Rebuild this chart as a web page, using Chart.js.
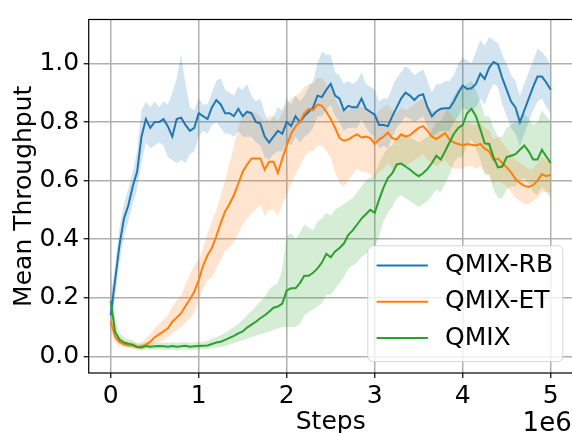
<!DOCTYPE html>
<html><head><meta charset="utf-8">
<script src="https://cdn.jsdelivr.net/npm/chart.js@4"></script>
<style>
html,body{margin:0;padding:0;overflow:hidden;background:#fff;}
#wrap{width:574px;height:433px;position:relative;}
</style></head><body>
<div id="wrap"><canvas id="c"></canvas></div>
<script>
// x values in units of 1e6 steps
const steps = [0,0.05,0.1,0.15,0.2,0.25,0.3,0.35,0.4,0.45,
0.5,0.55,0.6,0.65,0.7,0.75,0.8,0.85,0.9,0.95,
1,1.05,1.1,1.15,1.2,1.25,1.3,1.35,1.4,1.45,
1.5,1.55,1.6,1.65,1.7,1.75,1.8,1.85,1.9,1.95,
2,2.05,2.1,2.15,2.2,2.25,2.3,2.35,2.4,2.45,
2.5,2.55,2.6,2.65,2.7,2.75,2.8,2.85,2.9,2.95,
3,3.05,3.1,3.15,3.2,3.25,3.3,3.35,3.4,3.45,
3.5,3.55,3.6,3.65,3.7,3.75,3.8,3.85,3.9,3.95,
4,4.05,4.1,4.15,4.2,4.25,4.3,4.35,4.4,4.45,
4.5,4.55,4.6,4.65,4.7,4.75,4.8,4.85,4.9,4.95,5];

const rbMean = [0.14,0.26,0.38,0.47,0.515,0.58,0.63,0.75,0.81,0.78,
0.80,0.80,0.81,0.785,0.75,0.81,0.815,0.79,0.77,0.78,
0.83,0.82,0.81,0.85,0.875,0.86,0.83,0.83,0.82,0.845,
0.82,0.835,0.83,0.80,0.795,0.75,0.73,0.75,0.77,0.76,
0.80,0.786,0.82,0.80,0.82,0.835,0.85,0.89,0.885,0.91,
0.93,0.89,0.88,0.84,0.855,0.85,0.85,0.88,0.845,0.835,
0.825,0.79,0.79,0.786,0.82,0.85,0.88,0.90,0.89,0.875,
0.89,0.895,0.85,0.82,0.836,0.845,0.847,0.847,0.87,0.90,
0.925,0.913,0.915,0.93,0.965,0.947,0.985,1.005,0.997,0.95,
0.91,0.87,0.85,0.80,0.84,0.88,0.92,0.955,0.955,0.935,0.91];
const rbHigh = [0.20,0.31,0.44,0.52,0.57,0.63,0.70,0.84,0.87,0.85,
0.87,0.85,0.87,0.86,0.90,0.95,1.03,0.93,0.85,0.84,
0.88,0.86,0.86,0.90,0.94,0.95,0.91,0.90,0.89,0.92,
0.91,0.93,0.89,0.87,0.88,0.83,0.80,0.82,0.85,0.84,
0.88,0.86,0.89,0.87,0.89,0.92,0.94,1.00,1.04,1.03,
1.03,0.97,0.96,0.93,0.94,0.93,0.94,0.97,0.93,0.92,
0.91,0.87,0.88,0.88,0.92,0.95,0.97,0.99,0.98,0.96,
0.97,0.98,0.94,0.90,0.93,0.93,0.94,0.94,0.96,1.00,
1.02,1.01,1.00,1.04,1.08,1.06,1.09,1.08,1.07,1.03,
1.00,0.96,0.94,0.89,0.93,0.97,1.01,1.05,1.04,1.02,0.99];
const rbLow = [0.11,0.20,0.32,0.41,0.46,0.52,0.57,0.66,0.73,0.71,
0.72,0.73,0.72,0.68,0.67,0.66,0.67,0.66,0.69,0.70,
0.75,0.77,0.76,0.79,0.80,0.78,0.76,0.76,0.75,0.77,
0.75,0.75,0.75,0.73,0.72,0.68,0.67,0.69,0.70,0.70,
0.73,0.72,0.75,0.73,0.75,0.76,0.78,0.82,0.82,0.84,
0.86,0.82,0.80,0.77,0.78,0.78,0.78,0.81,0.78,0.76,
0.75,0.71,0.72,0.71,0.75,0.78,0.80,0.82,0.81,0.80,
0.81,0.82,0.78,0.75,0.76,0.77,0.77,0.77,0.80,0.82,
0.85,0.84,0.84,0.85,0.88,0.86,0.90,0.93,0.92,0.86,
0.82,0.78,0.76,0.72,0.76,0.80,0.84,0.87,0.88,0.85,0.83];

const etMean = [0.12,0.066,0.048,0.041,0.038,0.036,0.032,0.034,0.040,0.050,
0.065,0.075,0.085,0.096,0.118,0.132,0.147,0.172,0.195,0.22,
0.26,0.31,0.345,0.37,0.41,0.455,0.495,0.52,0.55,0.59,
0.63,0.655,0.675,0.675,0.675,0.637,0.664,0.664,0.626,0.675,
0.72,0.76,0.785,0.80,0.83,0.845,0.84,0.86,0.855,0.835,
0.81,0.78,0.745,0.736,0.74,0.75,0.758,0.747,0.75,0.745,
0.725,0.74,0.75,0.764,0.745,0.74,0.758,0.75,0.755,0.768,
0.78,0.786,0.77,0.75,0.742,0.752,0.762,0.74,0.73,0.725,
0.72,0.725,0.722,0.72,0.725,0.709,0.70,0.67,0.675,0.66,
0.645,0.628,0.605,0.592,0.582,0.578,0.584,0.60,0.622,0.615,0.62];
const etHigh = [0.15,0.09,0.065,0.055,0.05,0.048,0.043,0.048,0.06,0.075,
0.095,0.11,0.125,0.14,0.17,0.19,0.21,0.245,0.28,0.31,
0.33,0.37,0.42,0.46,0.50,0.55,0.60,0.66,0.72,0.78,
0.82,0.83,0.84,0.83,0.82,0.80,0.82,0.82,0.80,0.83,
0.86,0.88,0.89,0.90,0.92,0.93,0.93,0.95,0.95,0.93,
0.91,0.88,0.85,0.84,0.84,0.85,0.86,0.85,0.85,0.84,
0.82,0.84,0.85,0.86,0.84,0.83,0.85,0.84,0.85,0.86,
0.87,0.88,0.86,0.84,0.83,0.84,0.85,0.83,0.81,0.80,
0.79,0.80,0.79,0.79,0.80,0.78,0.77,0.74,0.75,0.73,
0.71,0.69,0.67,0.66,0.65,0.64,0.64,0.66,0.68,0.67,0.68];
const etLow = [0.09,0.05,0.035,0.03,0.028,0.026,0.024,0.025,0.028,0.035,
0.045,0.05,0.055,0.065,0.08,0.09,0.10,0.115,0.13,0.15,
0.19,0.23,0.26,0.27,0.30,0.33,0.36,0.37,0.39,0.42,
0.45,0.47,0.49,0.50,0.52,0.48,0.50,0.50,0.48,0.52,
0.55,0.59,0.62,0.65,0.68,0.70,0.70,0.72,0.72,0.70,
0.68,0.63,0.59,0.58,0.60,0.62,0.64,0.63,0.63,0.62,
0.61,0.63,0.64,0.66,0.64,0.64,0.66,0.65,0.66,0.67,
0.68,0.69,0.67,0.66,0.65,0.66,0.67,0.65,0.64,0.64,
0.64,0.65,0.65,0.64,0.65,0.63,0.62,0.59,0.60,0.59,
0.58,0.56,0.54,0.53,0.52,0.52,0.53,0.54,0.56,0.56,0.56];

const qmMean = [0.19,0.083,0.057,0.047,0.043,0.04,0.032,0.03,0.035,0.033,
0.034,0.035,0.034,0.033,0.035,0.033,0.034,0.036,0.033,0.034,
0.035,0.036,0.037,0.042,0.047,0.05,0.056,0.063,0.07,0.078,
0.085,0.098,0.108,0.118,0.13,0.14,0.152,0.166,0.17,0.18,
0.225,0.232,0.232,0.25,0.275,0.275,0.285,0.30,0.32,0.35,
0.338,0.358,0.37,0.385,0.415,0.43,0.45,0.47,0.485,0.50,
0.49,0.535,0.576,0.609,0.625,0.655,0.658,0.648,0.638,0.625,
0.615,0.625,0.64,0.66,0.685,0.672,0.70,0.73,0.76,0.78,
0.79,0.83,0.845,0.82,0.775,0.727,0.725,0.68,0.645,0.648,
0.68,0.685,0.69,0.705,0.72,0.70,0.672,0.672,0.705,0.682,0.66];
const qmHigh = [0.30,0.13,0.08,0.065,0.058,0.055,0.045,0.042,0.048,0.046,
0.047,0.048,0.047,0.046,0.048,0.046,0.047,0.049,0.046,0.047,
0.048,0.05,0.052,0.06,0.066,0.072,0.08,0.09,0.10,0.11,
0.125,0.14,0.155,0.17,0.19,0.20,0.23,0.24,0.25,0.30,
0.41,0.42,0.40,0.42,0.45,0.44,0.43,0.46,0.47,0.49,
0.48,0.50,0.51,0.52,0.53,0.54,0.56,0.58,0.60,0.61,
0.62,0.66,0.69,0.71,0.72,0.75,0.76,0.76,0.75,0.74,
0.73,0.74,0.75,0.77,0.80,0.80,0.83,0.86,0.89,0.91,
0.92,0.93,0.94,0.91,0.87,0.82,0.82,0.78,0.75,0.75,
0.78,0.79,0.80,0.81,0.83,0.81,0.79,0.80,0.84,0.82,0.80];
const qmLow = [0.12,0.06,0.045,0.035,0.032,0.03,0.022,0.02,0.024,0.022,
0.022,0.023,0.022,0.021,0.023,0.021,0.022,0.024,0.021,0.022,
0.023,0.024,0.025,0.028,0.03,0.032,0.035,0.04,0.045,0.05,
0.055,0.06,0.065,0.07,0.075,0.08,0.085,0.09,0.095,0.10,
0.10,0.10,0.10,0.11,0.14,0.15,0.16,0.17,0.18,0.21,
0.21,0.23,0.25,0.27,0.30,0.31,0.32,0.34,0.35,0.36,
0.37,0.41,0.46,0.49,0.51,0.54,0.55,0.54,0.53,0.52,
0.51,0.52,0.53,0.55,0.57,0.56,0.59,0.62,0.66,0.68,
0.68,0.72,0.74,0.71,0.67,0.62,0.62,0.57,0.54,0.54,
0.57,0.58,0.58,0.60,0.61,0.59,0.56,0.55,0.58,0.56,0.54];

const xTicks = [0,1,2,3,4,5];
const yTicks = [0.0,0.2,0.4,0.6,0.8,1.0];
const seriesLabels = ['QMIX-RB','QMIX-ET','QMIX'];
const xLabel = 'Steps';
const yLabel = 'Mean Throughput';
const xOffsetLabel = '1e6';

const FONT = '"DejaVu Sans", sans-serif';
const colors = ['#1f77b4','#ff7f0e','#2ca02c'];
const bandColors = ['rgba(31,119,180,0.2)','rgba(255,127,14,0.2)','rgba(44,160,44,0.2)'];
const means = [rbMean, etMean, qmMean];
const lows = [rbLow, etLow, qmLow];
const highs = [rbHigh, etHigh, qmHigh];

function pts(arr){ return arr.map((v,i)=>({x:steps[i], y:v})); }

const datasets = [];
for (let k=0;k<3;k++){
  const loIdx = datasets.length;
  datasets.push({label:'_lo'+k, data:pts(lows[k]), borderWidth:0, borderColor:'rgba(0,0,0,0)', pointRadius:0, fill:false, order:10});
  datasets.push({label:'_hi'+k, data:pts(highs[k]), borderWidth:0, borderColor:'rgba(0,0,0,0)', pointRadius:0, fill:loIdx, backgroundColor:bandColors[k], order:10});
}
for (let k=0;k<3;k++){
  datasets.push({label:seriesLabels[k], data:pts(means[k]), borderColor:colors[k], borderWidth:2, pointRadius:0, fill:false, tension:0, order:3-k, isMain:true});
}

const framePlugin = {
  id:'frame',
  afterDatasetsDraw(chart){
    const {ctx, chartArea:a} = chart;
    ctx.save();
    ctx.strokeStyle = '#000'; ctx.lineWidth = 1.2;
    ctx.strokeRect(a.left, a.top, a.right-a.left, a.bottom-a.top);
    ctx.restore();
  },
  afterDraw(chart){
    const {ctx, chartArea:a} = chart;
    ctx.save();
    ctx.font = '26px ' + FONT;
    ctx.fillStyle = '#000';
    ctx.textAlign = 'right'; ctx.textBaseline = 'alphabetic';
    ctx.fillText(xOffsetLabel, a.right - 1, 431);
    const bx = 367.8, by = 245.8, bw = 195, bh = 115.8, r = 5;
    ctx.beginPath();
    ctx.moveTo(bx+r, by); ctx.lineTo(bx+bw-r, by); ctx.arcTo(bx+bw, by, bx+bw, by+r, r);
    ctx.lineTo(bx+bw, by+bh-r); ctx.arcTo(bx+bw, by+bh, bx+bw-r, by+bh, r);
    ctx.lineTo(bx+r, by+bh); ctx.arcTo(bx, by+bh, bx, by+bh-r, r);
    ctx.lineTo(bx, by+r); ctx.arcTo(bx, by, bx+r, by, r); ctx.closePath();
    ctx.fillStyle = 'rgba(255,255,255,0.8)'; ctx.fill();
    ctx.strokeStyle = 'rgba(204,204,204,0.8)'; ctx.lineWidth = 1; ctx.stroke();
    const mains = chart.data.datasets.filter(d=>d.isMain);
    ctx.font = '25px ' + FONT;
    ctx.textAlign = 'left'; ctx.textBaseline = 'middle';
    mains.forEach((d,i)=>{
      const y = 265.4 + i*36.3;
      ctx.strokeStyle = d.borderColor; ctx.lineWidth = 2;
      ctx.beginPath(); ctx.moveTo(376.6, y); ctx.lineTo(427.9, y); ctx.stroke();
      ctx.fillStyle = '#000';
      ctx.fillText(d.label, 445, y);
    });
    ctx.restore();
  }
};

new Chart(document.getElementById('c'), {
  type:'line',
  data:{datasets},
  options:{
    responsive:true, maintainAspectRatio:false, animation:false, devicePixelRatio:1,
    layout:{padding:{top:11, right:1.3, left:0, bottom:0}},
    plugins:{legend:{display:false}, tooltip:{enabled:false}, filler:{drawTime:'beforeDatasetsDraw'}},
    scales:{
      x:{type:'linear', min:-0.25, max:5.25,
        afterBuildTicks(s){ s.ticks = xTicks.map(v=>({value:v})); },
        afterFit(s){ s.height = 60; },
        ticks:{font:{family:FONT, size:25}, color:'#000', padding:3.5, maxRotation:0, autoSkip:false,
          callback:(v)=>String(v)},
        grid:{color:'#b0b0b0', lineWidth:1.5, tickColor:'#000', tickLength:5, tickWidth:1.2, drawTicks:true},
        border:{display:false},
        title:{display:true, text:xLabel, font:{family:FONT, size:25, lineHeight:1.2}, color:'#000', padding:{top:0,bottom:-4}}
      },
      y:{type:'linear', min:-0.057, max:1.15,
        afterBuildTicks(s){ s.ticks = yTicks.map(v=>({value:v})); },
        afterFit(s){ s.width = 88.7; },
        ticks:{font:{family:FONT, size:25}, color:'#000', padding:4.5, autoSkip:false,
          callback:(v)=>Number(v).toFixed(1)},
        grid:{color:'#b0b0b0', lineWidth:1.5, tickColor:'#000', tickLength:5, tickWidth:1.2, drawTicks:true},
        border:{display:false},
        title:{display:true, text:yLabel, font:{family:FONT, size:25, lineHeight:1.2}, color:'#000', padding:{top:9,bottom:0}}
      }
    }
  },
  plugins:[framePlugin]
});
</script>
</body></html>
